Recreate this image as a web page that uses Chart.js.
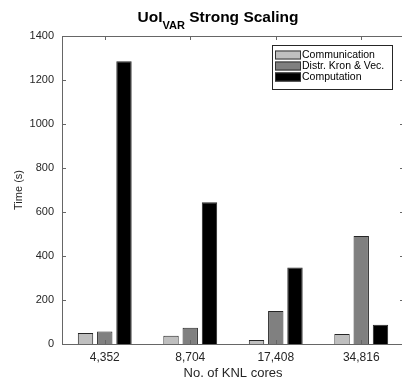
<!DOCTYPE html>
<html>
<head>
<meta charset="utf-8">
<script src="https://cdn.jsdelivr.net/npm/chart.js@4"></script>
<style>
  html, body { margin: 0; padding: 0; background: #fff; overflow: hidden; }
  #wrap { width: 410px; height: 381px; }
</style>
</head>
<body>
<div id="wrap"><canvas id="barChart" width="410" height="381"></canvas></div>
<script>
const cores = ["4,352", "8,704", "17,408", "34,816"];
const communication = [50, 38, 18, 45];
const distrKronVec = [57, 74, 150, 491];
const computation = [1285, 644, 348, 88];
const yTicks = [0, 200, 400, 600, 800, 1000, 1200, 1400];

const FONT = "'Liberation Sans', Arial, sans-serif";
const AXIS = "#666666";
const TEXT = "#262626";

// title with subscript + inward ticks + boxed legend
const decor = {
    id: "decor",
    afterDraw(chart) {
        const ctx = chart.ctx;
        const area = chart.chartArea;
        const x = chart.scales.x, y = chart.scales.y;
        ctx.save();

        // box around axes
        ctx.strokeStyle = AXIS;
        ctx.lineWidth = 1;
        ctx.strokeRect(Math.round(area.left) + 0.5, Math.round(area.top) + 0.5,
            Math.round(area.right - area.left), Math.round(area.bottom - area.top));

        // inward ticks
        ctx.beginPath();
        y.ticks.forEach((t, i) => {
            const py = Math.round(y.getPixelForTick(i)) + 0.5;
            ctx.moveTo(area.left, py); ctx.lineTo(area.left + 4, py);
            ctx.moveTo(area.right, py); ctx.lineTo(area.right - 4, py);
        });
        x.ticks.forEach((t, i) => {
            const px = Math.round(x.getPixelForTick(i)) + 0.5;
            ctx.moveTo(px, area.bottom); ctx.lineTo(px, area.bottom - 4);
            ctx.moveTo(px, area.top); ctx.lineTo(px, area.top + 4);
        });
        ctx.stroke();

        // title: UoI_VAR Strong Scaling
        const big = "bold 15.5px " + FONT, small = "bold 11px " + FONT;
        ctx.fillStyle = "#000";
        ctx.textBaseline = "alphabetic";
        ctx.font = big;
        const w1 = ctx.measureText("UoI").width;
        const w3 = ctx.measureText(" Strong Scaling").width;
        ctx.font = small;
        const w2 = ctx.measureText("VAR").width;
        let tx = 218 - (w1 + w2 + w3) / 2;
        ctx.font = big; ctx.fillText("UoI", tx, 22); tx += w1;
        ctx.font = small; ctx.fillText("VAR", tx, 29); tx += w2;
        ctx.font = big; ctx.fillText(" Strong Scaling", tx, 22);

        // legend
        const lx = 272, ly = 45, lw = 120, lh = 44;
        ctx.fillStyle = "#fff";
        ctx.fillRect(lx, ly, lw, lh);
        ctx.strokeStyle = "#262626";
        ctx.strokeRect(lx + 0.5, ly + 0.5, lw, lh);
        ctx.font = "10.5px " + FONT;
        ctx.textBaseline = "middle";
        chart.data.datasets.forEach((ds, i) => {
            const ry = ly + 10 + i * 11;
            ctx.fillStyle = ds.backgroundColor;
            ctx.fillRect(lx + 3, ry - 4.5, 26, 9);
            ctx.strokeStyle = "#333";
            ctx.strokeRect(lx + 3.5, ry - 4, 25, 8);
            ctx.fillStyle = "#000";
            ctx.fillText(ds.label, lx + 30, ry + 0.5);
        });
        ctx.restore();
    }
};

new Chart(document.getElementById("barChart"), {
    type: "bar",
    data: {
        labels: cores,
        datasets: [
            { label: "Communication", data: communication, backgroundColor: "#bfbfbf" },
            { label: "Distr. Kron & Vec.", data: distrKronVec, backgroundColor: "#808080" },
            { label: "Computation", data: computation, backgroundColor: "#000000" }
        ].map(d => Object.assign(d, {
            borderColor: "#262626",
            borderWidth: 1,
            borderSkipped: "bottom",
            categoryPercentage: 0.675,
            barPercentage: 0.8
        }))
    },
    options: {
        responsive: false,
        animation: false,
        devicePixelRatio: 1,
        layout: { padding: { left: 0, right: 6, top: 36, bottom: 0 } },
        plugins: { legend: { display: false }, tooltip: { enabled: false }, title: { display: false } },
        scales: {
            x: {
                grid: { display: false, drawTicks: false },
                border: { display: false },
                ticks: { color: TEXT, font: { family: FONT, size: 12 }, padding: 6, maxRotation: 0 },
                title: { display: true, text: "No. of KNL cores", color: TEXT, font: { family: FONT, size: 13 }, padding: { top: 2, bottom: 0 } },
                afterFit(s) { s.height = 37; }
            },
            y: {
                min: 0, max: 1400,
                afterBuildTicks(s) { s.ticks = yTicks.map(v => ({ value: v })); },
                grid: { display: false, drawTicks: false },
                border: { display: false },
                ticks: { color: TEXT, font: { family: FONT, size: 11 }, padding: 8, callback: v => String(v) },
                title: { display: true, text: "Time (s)", color: TEXT, font: { family: FONT, size: 11 }, padding: { top: 12, bottom: 0 } },
                afterFit(s) { s.width = 62; }
            }
        }
    },
    plugins: [decor]
});
</script>
</body>
</html>
